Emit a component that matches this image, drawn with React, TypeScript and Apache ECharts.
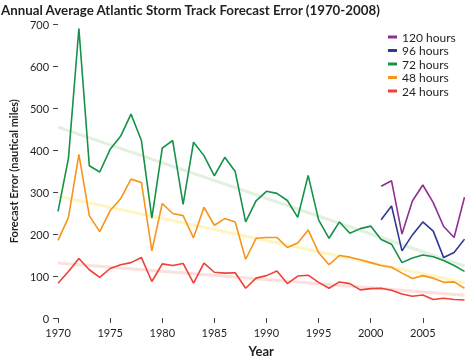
import React, { useEffect, useRef } from "react";
import * as echarts from "echarts";

const years = [
  1970, 1971, 1972, 1973, 1974, 1975, 1976, 1977, 1978, 1979,
  1980, 1981, 1982, 1983, 1984, 1985, 1986, 1987, 1988, 1989,
  1990, 1991, 1992, 1993, 1994, 1995, 1996, 1997, 1998, 1999,
  2000, 2001, 2002, 2003, 2004, 2005, 2006, 2007, 2008, 2009,
];
const yearsLong = [2001, 2002, 2003, 2004, 2005, 2006, 2007, 2008, 2009];

const h72 = [
  254, 381, 690, 363, 348, 402, 433, 486, 423, 238,
  405, 423, 271, 419, 387, 339, 383, 349, 229, 279,
  302, 297, 280, 240, 340, 234, 190, 229, 202, 213,
  219, 187, 176, 132, 143, 150, 146, 137, 125, 111,
];
const h48 = [
  185, 240, 390, 244, 206, 256, 284, 331, 323, 160,
  273, 249, 244, 191, 264, 221, 237, 229, 140, 190,
  192, 192, 168, 179, 210, 156, 127, 149, 145, 139,
  132, 125, 121, 107, 94, 101, 95, 85, 86, 71,
];
const h24 = [
  83, 111, 142, 115, 97, 118, 127, 132, 144, 87,
  129, 125, 130, 83, 131, 109, 107, 108, 71, 95,
  101, 112, 82, 100, 102, 85, 71, 86, 82, 67,
  70, 71, 66, 57, 52, 55, 44, 47, 44, 43,
];
const h96 = [234, 267, 160, 198, 229, 207, 144, 156, 188];
const h120 = [314, 327, 200, 279, 317, 275, 218, 192, 288];

const trendYears = [1970, 2009];
const trend72 = [455, 124];
const trend48 = [290, 84];
const trend24 = [131, 54];

const xTickValues = [1970, 1975, 1980, 1985, 1990, 1995, 2000, 2005];
const legendNames = ["120 hours", "96 hours", "72 hours", "48 hours", "24 hours"];

const FONT = "Lato, 'Open Sans', sans-serif";
const TEXT = "#231f20";

const pair = (xs: number[], ys: number[]) => xs.map((x, i) => [x, ys[i]]);

export default function App() {
  const ref = useRef<HTMLDivElement>(null);
  useEffect(() => {
    if (!ref.current) return;
    const chart = echarts.init(ref.current, undefined, { renderer: "svg" });
    const line = (name: string, color: string, data: number[][]) => ({
      name,
      type: "line",
      data,
      symbol: "none",
      silent: true,
      z: 3,
      lineStyle: { color, width: 1.6 },
      itemStyle: { color },
    });
    const trend = (color: string, data: number[][]) => ({
      type: "line",
      data,
      symbol: "none",
      silent: true,
      z: 1,
      lineStyle: { color, width: 3 },
      itemStyle: { color },
    });
    chart.setOption({
      animation: false,
      textStyle: { fontFamily: FONT },
      title: {
        text: "Annual Average Atlantic Storm Track Forecast Error (1970-2008)",
        left: 1,
        top: 3,
        padding: 0,
        textStyle: { fontFamily: FONT, fontSize: 13.3, fontWeight: "bold", color: TEXT },
      },
      legend: {
        data: legendNames,
        orient: "vertical",
        left: 388,
        top: 31,
        padding: 0,
        icon: "rect",
        itemWidth: 9,
        itemHeight: 3,
        itemGap: 1.5,
        textStyle: { fontFamily: FONT, fontSize: 12, color: TEXT },
      },
      grid: { left: 46.4, right: 0.5, top: 24.3, bottom: 43.7, containLabel: false },
      xAxis: {
        type: "value",
        min: 1970,
        max: 2009,
        axisLine: { show: false },
        splitLine: { show: false },
        axisTick: { show: true, length: 5, customValues: xTickValues, lineStyle: { color: "#444", width: 1 } },
        axisLabel: {
          customValues: xTickValues,
          formatter: (v: number) => String(v),
          margin: 9,
          fontSize: 11,
          color: TEXT,
          fontFamily: FONT,
        },
        name: "Year",
        nameLocation: "middle",
        nameGap: 26,
        nameTextStyle: { fontFamily: FONT, fontSize: 13, fontWeight: "bold", color: TEXT },
      },
      yAxis: {
        type: "value",
        min: 0,
        max: 700,
        interval: 100,
        axisLine: { show: false },
        splitLine: { show: false },
        axisTick: { show: true, length: 5, lineStyle: { color: "#444", width: 1 } },
        axisLabel: { margin: 9, fontSize: 11, color: TEXT, fontFamily: FONT },
        name: "Forecast Error (nautical miles)",
        nameLocation: "middle",
        nameGap: 33,
        nameTextStyle: { fontFamily: FONT, fontSize: 11, fontWeight: "bold", color: TEXT },
      },
      series: [
        trend("#e2f0de", pair(trendYears, trend72)),
        trend("#fff5c2", pair(trendYears, trend48)),
        trend("#fbe0dd", pair(trendYears, trend24)),
        line("24 hours", "#ef4136", pair(years, h24)),
        line("48 hours", "#f7941d", pair(years, h48)),
        line("72 hours", "#169147", pair(years, h72)),
        line("96 hours", "#2e3a92", pair(yearsLong, h96)),
        line("120 hours", "#8f2f91", pair(yearsLong, h120)),
      ],
    });
    return () => chart.dispose();
  }, []);
  return (
    <div
      ref={ref}
      style={{ position: "fixed", left: 0, top: 0, width: 465, height: 362 }}
    />
  );
}
